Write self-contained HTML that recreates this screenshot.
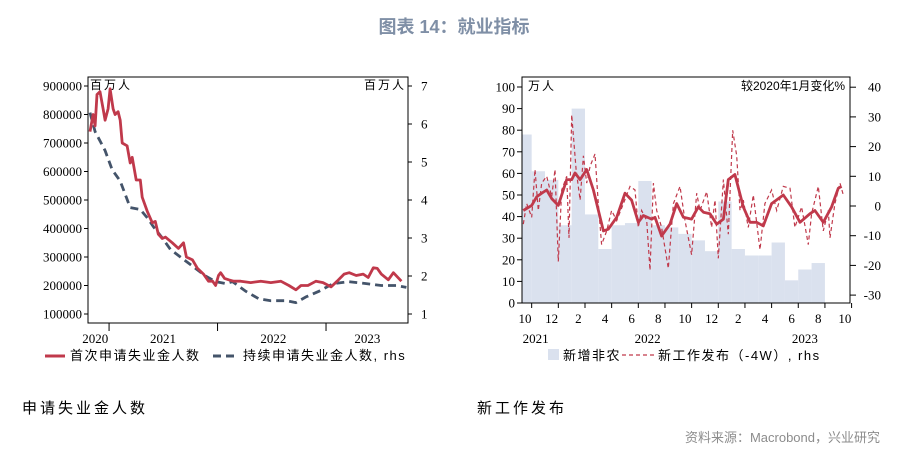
<!DOCTYPE html>
<html><head><meta charset="utf-8">
<style>
body{margin:0;background:#fff;width:908px;height:457px;overflow:hidden}
svg text{font-family:"Liberation Serif","Noto Serif CJK SC",serif}
</style></head>
<body>
<svg id="s" width="908" height="457" xmlns="http://www.w3.org/2000/svg">
<text x="454" y="33" text-anchor="middle" font-size="18" font-weight="bold" fill="#7f8fa6" style="font-family:'Liberation Sans','Noto Sans CJK SC',sans-serif">图表 14：就业指标</text>
<text x="22" y="413" font-size="15" fill="#000" letter-spacing="3" style="font-family:'Liberation Sans','Noto Sans CJK SC',sans-serif">申请失业金人数</text>
<text x="477" y="413" font-size="15" fill="#000" letter-spacing="3" style="font-family:'Liberation Sans','Noto Sans CJK SC',sans-serif">新工作发布</text>
<text x="880" y="442" text-anchor="end" font-size="13" fill="#8c8c8c" style="font-family:'Liberation Sans','Noto Sans CJK SC',sans-serif">资料来源：Macrobond，兴业研究</text>
<g id="L"></g><g id="R"></g>
</svg>
<script>
// Left chart data (month index from ~mid Oct 2020)
const icMonths=[0.22,0.56,0.78,1.0,1.33,1.67,1.89,2.22,2.44,2.78,3.0,3.33,3.56,3.78,4.33,4.67,4.89,5.33,5.78,6.0,6.56,7.11,7.44,7.78,8.22,8.56,9.33,10.0,10.56,10.89,11.56,12.11,12.78,13.33,13.78,14.11,14.44,14.67,15.11,15.56,16.11,16.89,18.0,19.11,20.22,21.33,22.22,23.0,23.56,24.33,25.22,26.0,26.89,27.56,28.33,28.89,29.67,30.44,31.0,31.56,32.0,32.44,33.22,33.78,34.67];
const icValues=[740000,800000,760000,870000,880000,820000,780000,820000,890000,820000,800000,810000,780000,700000,690000,630000,650000,570000,570000,510000,460000,420000,425000,380000,365000,370000,350000,330000,350000,300000,290000,260000,240000,215000,215000,200000,235000,245000,225000,220000,215000,215000,210000,215000,210000,215000,200000,185000,200000,200000,215000,210000,195000,215000,240000,245000,235000,240000,228000,262000,260000,240000,220000,245000,215000];
const ccMonths=[0.22,0.78,1.89,2.67,3.56,4.67,5.78,6.67,7.22,8.22,9.11,10.22,11.89,13.0,14.11,15.22,16.0,17.44,18.89,20.22,21.89,23.0,24.11,25.56,27.11,28.89,30.78,32.44,34.11,35.22];
const ccValues=[6.3,5.8,5.3,4.8,4.5,3.8,3.75,3.5,3.3,3.0,2.7,2.5,2.2,2.0,1.85,1.8,1.85,1.6,1.4,1.35,1.35,1.3,1.45,1.6,1.8,1.85,1.8,1.75,1.75,1.7];
const leftTicks=[100000,200000,300000,400000,500000,600000,700000,800000,900000];
const rightTicks=[1,2,3,4,5,6,7];
const yearLabels=["2020","2021","2022","2023"];
const yearLabelMonths=[0.8,8.3,20.5,30.9];
const yearTickMonths=[2.33,14.33,26.33];
// Right chart data (month index from Oct 2021)
const nfpMonths=[0,1,2,3,4,5,6,7,8,9,10,11,12,13,14,15,16,17,18,19,20,21,22];
const nfpValues=[78,61,57,36,90,41,25,36,37,56.5,36,35,32,29,24,47,25,22,22,28,10.5,15.5,18.5];
const smMonths=[-0.13,0.5,0.88,1.25,1.63,2.0,2.5,3.13,3.5,3.75,4.13,4.63,5.13,5.88,6.25,6.88,7.5,8.0,8.5,8.88,9.5,9.75,10.25,10.88,11.38,11.88,12.5,13.0,13.38,13.88,14.38,14.88,15.25,15.75,16.38,16.88,17.38,17.88,18.5,19.38,20.0,20.63,21.38,21.75,22.38,23.0,23.5,23.75];
const smValues=[-1.5,0.2,3.1,4.3,5.4,2.5,0.2,8.9,8.9,11.1,8.9,12.3,5.4,-8.4,-7.8,-3.8,4.3,2.0,-5.5,-3.2,-4.4,-3.8,-10.1,-6.1,0.8,-3.8,-4.4,-0.3,-2.1,-2.6,-6.1,-4.4,8.9,10.6,-0.3,-5.5,-5.5,-6.7,0.8,3.7,-0.3,-5.5,-2.6,-1.5,-5.5,-0.3,6.0,6.6];
const jpMonths=[-0.13,0.13,0.5,0.75,1.0,1.25,1.63,2.0,2.25,2.5,2.75,3.13,3.3,3.5,3.83,4.13,4.38,4.63,4.88,5.25,5.5,5.75,6.13,6.5,6.88,7.38,7.88,8.25,8.5,8.75,9.13,9.38,9.63,9.88,10.25,10.75,11.13,11.63,12.0,12.5,12.88,13.13,13.63,14.0,14.25,14.5,14.88,15.25,15.58,15.88,16.13,16.38,16.75,17.13,17.63,18.0,18.5,18.88,19.38,19.88,20.25,20.75,21.25,21.5,22.0,22.38,22.75,22.88,23.25,23.63,23.88];
const jpValues=[-6.1,0.8,-3.8,12.3,-1.5,7.7,10,3.1,12.3,-18.7,5.4,10,-10.7,30.7,12.3,2.0,16.9,7.7,13.4,17.5,0.8,-13,-8.4,-1.5,-4.9,0.8,6.6,5.4,-7.2,-1.5,-4.9,-21.6,7.7,-1.5,-7.2,-21,0.8,6.6,-4.9,-16.4,4.3,-1.5,4.8,-7.2,2.0,-17.6,8.9,-9.5,25.5,16.9,-1.5,2.0,-7.2,3.7,-14.7,0.8,5.4,-1.5,6.6,6.0,-7.2,-0.3,-13,-2.6,6.6,-8.4,-1.5,-10.7,0.8,7.7,3.7];
const lTicksR=[0,10,20,30,40,50,60,70,80,90,100];
const rTicksR=[-30,-20,-10,0,10,20,30,40];
const monthLabels=["10","12","2","4","6","8","10","12","2","4","6","8","10"];
const monthLabelIdx=[0,2,4,6,8,10,12,14,16,18,20,22,24];
const yr2Labels=["2021","2022","2023"];
const yr2Idx=[0.8,9.2,21];

const NS="http://www.w3.org/2000/svg";
const SANS="font-family:'Liberation Sans','Noto Sans CJK SC',sans-serif";
function mk(p,t,a){const e=document.createElementNS(NS,t);for(const k in a)e.setAttribute(k,a[k]);p.appendChild(e);return e;}
function path(xs,ys,fx,fy){return xs.map((m,i)=>(i?"L":"M")+fx(m).toFixed(1)+","+fy(ys[i]).toFixed(1)).join("");}

// LEFT
const L=document.getElementById("L");
const lx=m=>88+m*9.04, ly=v=>314-(v-100000)/100000*28.5, lyr=v=>314-(v-1)*38;
let e;
e=mk(L,"rect",{x:88,y:77,width:320,height:246,fill:"none",stroke:"#000","stroke-width":1});

leftTicks.forEach(v=>{mk(L,"line",{x1:84,x2:88,y1:ly(v),y2:ly(v),stroke:"#000"});
 e=mk(L,"text",{x:82,y:ly(v)+4.5,"text-anchor":"end","font-size":13});e.textContent=v;
 });
rightTicks.forEach(v=>{mk(L,"line",{x1:408,x2:412,y1:lyr(v),y2:lyr(v),stroke:"#000"});
 e=mk(L,"text",{x:421,y:lyr(v)+4.5,"font-size":13});e.textContent=v;
 });
yearTickMonths.forEach(m=>mk(L,"line",{x1:lx(m),x2:lx(m),y1:323,y2:331,stroke:"#000"}));
yearLabels.forEach((t,i)=>{e=mk(L,"text",{x:lx(yearLabelMonths[i]),y:343,"text-anchor":"middle","font-size":13});e.textContent=t;
 });
e=mk(L,"text",{x:90,y:89,"font-size":12,"letter-spacing":2,style:SANS});e.textContent="百万人";

e=mk(L,"text",{x:406,y:89,"text-anchor":"end","font-size":12,"letter-spacing":2,style:SANS});e.textContent="百万人";

e=mk(L,"path",{d:path(ccMonths,ccValues,lx,lyr),fill:"none",stroke:"#44546a","stroke-width":2.8,"stroke-dasharray":"8,5"});

e=mk(L,"path",{d:path(icMonths,icValues,lx,ly),fill:"none",stroke:"#c0394b","stroke-width":2.8,"stroke-linejoin":"round"});

mk(L,"line",{x1:45,x2:65,y1:356,y2:356,stroke:"#c0394b","stroke-width":3});
e=mk(L,"text",{x:70,y:360,"font-size":13,"letter-spacing":1.5,style:SANS});e.textContent="首次申请失业金人数";

mk(L,"line",{x1:213,x2:238,y1:356,y2:356,stroke:"#44546a","stroke-width":3,"stroke-dasharray":"8,5"});
e=mk(L,"text",{x:243,y:360,"font-size":13,"letter-spacing":1.5,style:SANS});e.textContent="持续申请失业金人数, rhs";


// RIGHT
const R=document.getElementById("R");
const rx=m=>525+m*13.33, ry=v=>303-v*2.16, ryr=v=>206-v*2.97;
nfpMonths.forEach((m,i)=>{let x0=Math.max(522,rx(m)-6.67),x1=rx(m)+6.67;
 e=mk(R,"rect",{x:x0,y:ry(nfpValues[i]),width:x1-x0,height:303-ry(nfpValues[i]),fill:"#dae1ee"});
 });
e=mk(R,"rect",{x:522,y:77,width:328,height:226,fill:"none",stroke:"#000"});

lTicksR.forEach(v=>{mk(R,"line",{x1:517,x2:522,y1:ry(v),y2:ry(v),stroke:"#000"});
 e=mk(R,"text",{x:515,y:ry(v)+4.5,"text-anchor":"end","font-size":13});e.textContent=v;
 });
rTicksR.forEach(v=>{mk(R,"line",{x1:850,x2:856,y1:ryr(v),y2:ryr(v),stroke:"#000"});
 e=mk(R,"text",{x:881,y:ryr(v)+4.5,"text-anchor":"end","font-size":13});e.textContent=v;
 });
monthLabelIdx.forEach((m,i)=>{mk(R,"line",{x1:rx(m)+6.67,x2:rx(m)+6.67,y1:303,y2:308,stroke:"#000"});
 e=mk(R,"text",{x:rx(m),y:323,"text-anchor":"middle","font-size":13});e.textContent=monthLabels[i];
 });
yr2Labels.forEach((t,i)=>{e=mk(R,"text",{x:rx(yr2Idx[i]),y:343,"text-anchor":"middle","font-size":13});e.textContent=t;
 });
e=mk(R,"text",{x:528,y:90,"font-size":12,"letter-spacing":2,style:SANS});e.textContent="万人";

e=mk(R,"text",{x:845,y:90,"text-anchor":"end","font-size":12,style:SANS});e.textContent="较2020年1月变化%";

e=mk(R,"path",{d:path(jpMonths,jpValues,rx,ryr),fill:"none",stroke:"#c0394b","stroke-width":1.2,"stroke-dasharray":"4,3"});

e=mk(R,"path",{d:path(smMonths,smValues,rx,ryr),fill:"none",stroke:"#c0394b","stroke-width":2.8,"stroke-linejoin":"round"});

mk(R,"rect",{x:548,y:349,width:11,height:11,fill:"#dae1ee"});
e=mk(R,"text",{x:563,y:360,"font-size":13,"letter-spacing":1.5,style:SANS});e.textContent="新增非农";

mk(R,"line",{x1:622,x2:655,y1:355,y2:355,stroke:"#c0394b","stroke-width":1.2,"stroke-dasharray":"4,3"});
e=mk(R,"text",{x:658,y:360,"font-size":13,"letter-spacing":1.5,style:SANS});e.textContent="新工作发布（-4W）, rhs";

</script>
</body></html>
